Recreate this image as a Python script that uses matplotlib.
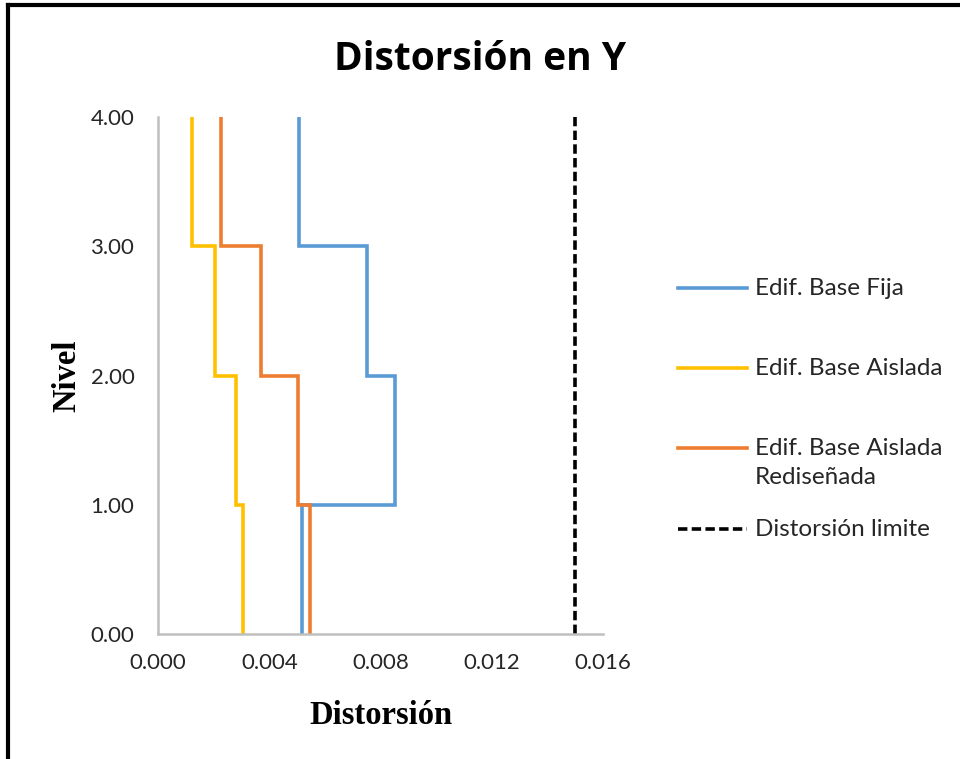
import numpy as np
import matplotlib.pyplot as plt
from matplotlib.lines import Line2D

# storey drift per level band (0-1, 1-2, 2-3, 3-4)
niveles = [0, 1, 2, 3, 4]
base_fija = [0.00518, 0.00851, 0.00753, 0.00506]
base_aislada = [0.00307, 0.00280, 0.00205, 0.00121]
base_redis = [0.00546, 0.00503, 0.00369, 0.00226]
limite = 0.015

etiquetas = ['Edif. Base Fija', 'Edif. Base Aislada',
             'Edif. Base Aislada\nRediseñada', 'Distorsión limite']
colores = ['#5b9bd5', '#ffc000', '#ed7d31', 'black']
estilos = ['-', '-', '-', (0, (2.6, 1.2))]


def escalones(d):
    # step profile: each storey value held between its two levels
    x = np.repeat(d, 2)
    y = np.repeat(niveles, 2)[1:-1]
    return x, y


W, H = 960, 759
fig = plt.figure(figsize=(W/100, H/100), dpi=100)
ax = fig.add_axes([158/W, 1-634/H, (603-158)/W, (634-117)/H])

for d, c in zip([base_fija, base_aislada, base_redis], colores[:3]):
    x, y = escalones(d)
    ax.plot(x, y, color=c, lw=2.6, solid_joinstyle='miter')
ax.plot([limite, limite], [niveles[0], niveles[-1]], color='black', lw=2.6,
        ls=estilos[3])

ax.set_xlim(0, 0.016)
ax.set_ylim(0, 4)
ax.set_xticks(np.arange(0, 0.0161, 0.004))
ax.set_xticklabels([f'{v:.3f}' for v in np.arange(0, 0.0161, 0.004)])
ax.set_yticks(niveles)
ax.set_yticklabels([f'{v:.2f}' for v in niveles])
for s in ['top', 'right']:
    ax.spines[s].set_visible(False)
for s in ['left', 'bottom']:
    ax.spines[s].set_color('#bfbfbf')
    ax.spines[s].set_linewidth(1.8)
ax.tick_params(length=0, labelsize=16, labelcolor='#262626')
ax.tick_params(axis='x', pad=14)
ax.tick_params(axis='y', pad=17)
for t in ax.get_xticklabels() + ax.get_yticklabels():
    t.set_family('Lato')

ax.set_xlabel('Distorsión', family='Liberation Serif', fontweight='bold',
              fontsize=23.5, labelpad=19)
ax.set_ylabel('Nivel', family='Liberation Serif', fontweight='bold',
              fontsize=23.5, labelpad=6)

fig.text(0.5, 1-59/H, 'Distorsión en Y', ha='center', va='center',
         family='Open Sans', fontweight='bold', fontsize=28)

# legend drawn by hand so the two-line entry keeps its key on the first line
ys = [288, 368, 448, 529]
for lab, c, ls, yk in zip(etiquetas, colores, estilos, ys):
    fig.add_artist(Line2D([678/W, 747/W], [1-yk/H, 1-yk/H], color=c, lw=2.6,
                          ls=ls))
    fig.text(755/W, 1-(yk-10)/H, lab, ha='left', va='top', color='#262626',
             family='Lato', fontsize=17.5, linespacing=1.5)

# frame of the exported picture (left and top edges)
fig.add_artist(Line2D([8/W, 8/W], [0, 1-5/H], color='black', lw=3))
fig.add_artist(Line2D([8/W, 1], [1-5/H, 1-5/H], color='black', lw=3))

fig.savefig('out.png', dpi=100)
